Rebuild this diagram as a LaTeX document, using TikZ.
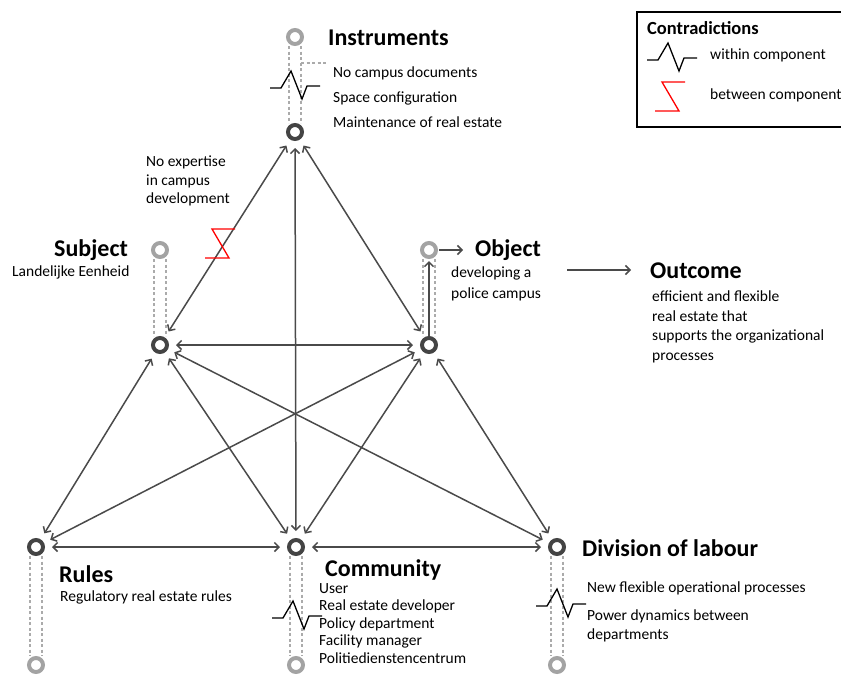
\documentclass[tikz,border=0pt]{standalone}
\usepackage{fontspec}
\setmainfont{Carlito}
\usetikzlibrary{arrows.meta,positioning,calc}
\definecolor{linegray}{HTML}{4A4A4A}
\definecolor{ringdark}{HTML}{444444}
\definecolor{ringlight}{HTML}{A3A3A3}
\definecolor{raildash}{HTML}{ABABAB}
\tikzset{ % components, links and labels
    ring/.style={circle, draw=ringdark, line width=4pt, minimum size=14pt, inner sep=0pt},
    ghost/.style={ring, draw=ringlight},
    rail/.style={draw=raildash, line width=1.5pt, dash pattern=on 3pt off 2.5pt},
    link/.style={draw=linegray, line width=1.5pt, {Straight Barb[length=4.5pt,width=9pt]}-{Straight Barb[length=4.5pt,width=9pt]}, shorten <=7pt, shorten >=7pt},
    oneway/.style={draw=linegray, line width=1.5pt, -{Straight Barb[length=4.5pt,width=9pt]}},
    heading/.style={font=\fontsize{24}{28}\selectfont\bfseries, anchor=west, inner sep=0pt},
    note/.style={font=\fontsize{15.5}{19}\selectfont, anchor=west, align=left, inner sep=0pt},
    within/.pic={\draw[black, line width=1.3pt] (-25,0) -- (-14,0) -- (-4,-17) -- (7,11) -- (12,-2) -- (25,-2);},
    between/.pic={\draw[red, line width=1.3pt] (23,0) -- (0,0) -- (17,29) -- (-7,29);}
}

\begin{document}
\begin{tikzpicture}[x=1pt, y=-1pt]
	\useasboundingbox (0,0) rectangle (841,675);
	%Components
	\node[ghost] (insttop) at (295,37) {};
	\node[ring]  (inst)    at (295,132) {};
	\node[ghost] (subjtop) at (160,250) {};
	\node[ring]  (subj)    at (160,345) {};
	\node[ghost] (objtop)  at (429,250) {};
	\node[ring]  (obj)     at (429,345) {};
	\node[ring]  (rules)   at (36,547) {};
	\node[ghost] (rulesbot) at (36,665) {};
	\node[ring]  (comm)    at (296,547) {};
	\node[ghost] (commbot) at (296,665) {};
	\node[ring]  (divl)    at (557,547) {};
	\node[ghost] (divlbot) at (557,665) {};
	\coordinate (instside) at (328,63);
	\coordinate (objarrow) at (463,250);
	\coordinate (outfrom)  at (567,270);
	\coordinate (outto)    at (631,270);
	%Dashed rails
	\foreach \a/\b in {insttop/inst, subjtop/subj, objtop/obj, rules/rulesbot, comm/commbot, divl/divlbot}{
		\draw[rail] ([xshift=-6pt]\a.south) -- ([xshift=-6pt]\b.north);
		\draw[rail] ([xshift=6pt]\a.south) -- ([xshift=6pt]\b.north);
	}
	\draw[rail] ([xshift=6pt]insttop.south |- instside) -- (instside);
	%Links
	\draw[link] (inst) -- (subj);
	\draw[link] (inst) -- (comm);
	\draw[link] (inst) -- (obj);
	\draw[link] (subj) -- (obj);
	\draw[link] (subj) -- (rules);
	\draw[link] (subj) -- (comm);
	\draw[link] (subj) -- (divl);
	\draw[link] (obj) -- (rules);
	\draw[link] (obj) -- (comm);
	\draw[link] (obj) -- (divl);
	\draw[link] (rules) -- (comm);
	\draw[link] (comm) -- (divl);
	\draw[oneway, shorten >=2pt] (obj) -- (objtop);
	\draw[oneway, shorten <=1pt] (objtop) -- (objarrow);
	\draw[oneway] (outfrom) -- (outto);
	%Contradictions
	\pic at (295,88) {within};
	\pic at (297,618) {within};
	\pic at (561,606) {within};
	\pic at (212,229) {between};
	%Labels
	\node[heading] (insttitle) at (328,38) {Instruments};
	\node[note, anchor=north west, font=\fontsize{15.5}{25}\selectfont] (instnote) at (333,67) {No campus documents\\Space configuration\\Maintenance of real estate};
	\node[note, anchor=north west, font=\fontsize{15.5}{18.5}\selectfont] (expnote) at (146,156) {No expertise\\in campus\\development};
	\node[heading] (subjtitle) at (54,250) {Subject};
	\node[note] (subjnote) at (12,272) {Landelijke Eenheid};
	\node[heading] (objtitle) at (475,250) {Object};
	\node[note, anchor=north west, font=\fontsize{15.5}{21}\selectfont] (objnote) at (451,267) {developing a\\police campus};
	\node[heading] (outtitle) at (650,271) {Outcome};
	\node[note, anchor=north west, font=\fontsize{15.5}{19.5}\selectfont] (outnote) at (652,291) {efficient and flexible\\real estate that\\supports the organizational\\processes};
	\node[heading] (rulestitle) at (59,574) {Rules};
	\node[note] (rulesnote) at (60,597) {Regulatory real estate rules};
	\node[heading] (commtitle) at (325,570) {Community};
	\node[note, anchor=north west, font=\fontsize{15.5}{17.5}\selectfont] (commnote) at (319,583) {User\\Real estate developer\\Policy department\\Facility manager\\Politiedienstencentrum};
	\node[heading] (divltitle) at (582,548) {Division of labour};
	\node[note] (divlnote) at (587,588) {New flexible operational processes};
	\node[note, anchor=north west] (powernote) at (587,610) {Power dynamics between\\departments};
	%Legend
	\draw[line width=1.3pt] (637,12) rectangle (850,127);
	\node[heading, font=\fontsize{18.5}{22}\selectfont\bfseries] (legtitle) at (647,28) {Contradictions};
	\pic at (672,60) {within};
	\pic at (662,82) {between};
	\node[note] (legwithin) at (710,55) {within component};
	\node[note] (legbetween) at (710,95) {between components};
\end{tikzpicture}
\end{document}
